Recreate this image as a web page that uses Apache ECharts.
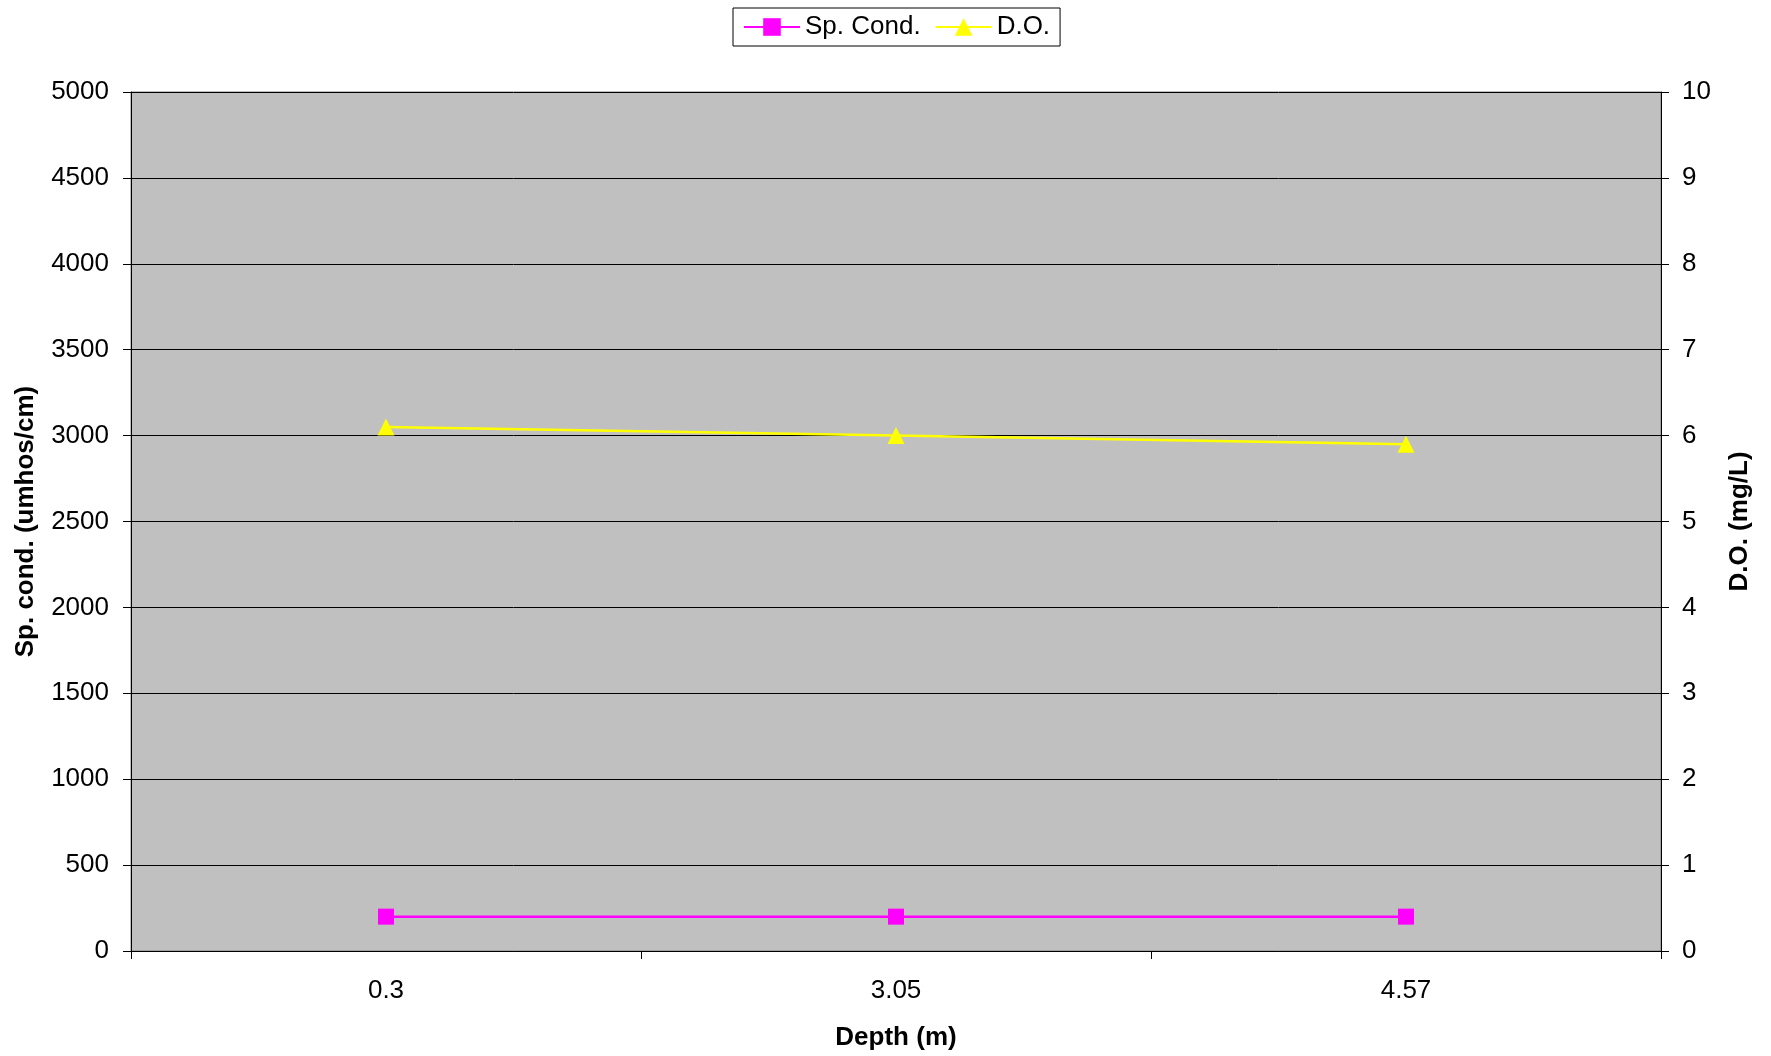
<!DOCTYPE html>
<html><head><meta charset="utf-8">
<script src="https://cdn.jsdelivr.net/npm/echarts@6/dist/echarts.min.js"></script>
<style>html,body{margin:0;padding:0;background:#fff}#c{width:1771px;height:1056px}</style>
</head><body><div id="c"></div>
<script>
const categories = ['0.3', '3.05', '4.57'];
const spCond = [200, 200, 200];
const dissolvedO = [6.1, 6.0, 5.9];
const leftTicks = { min: 0, max: 5000, interval: 500 };
const rightTicks = { min: 0, max: 10, interval: 1 };

const FONT = '"Liberation Sans", Arial, sans-serif';
const chart = echarts.init(document.getElementById('c'), null, { renderer: 'canvas' });
chart.setOption({
  backgroundColor: '#ffffff',
  animation: false,
  textStyle: { fontFamily: FONT, color: '#000' },
  legend: {
    left: 733, top: 8,
    padding: [6, 10, 6, 10],
    borderColor: '#000', borderWidth: 1,
    itemWidth: 56, itemHeight: 22, itemGap: 14,
    textStyle: { fontFamily: FONT, fontSize: 26, color: '#000' },
    data: ['Sp. Cond.', 'D.O.']
  },
  grid: {
    left: 131, right: 110, top: 92, bottom: 103,
    show: true, backgroundColor: '#C0C0C0', borderColor: '#808080', borderWidth: 1
  },
  xAxis: {
    type: 'category', data: categories, boundaryGap: true,
    name: 'Depth (m)', nameLocation: 'middle', nameGap: 74,
    nameTextStyle: { fontFamily: FONT, fontSize: 26, fontWeight: 'bold', color: '#000' },
    axisLine: { lineStyle: { color: '#000', width: 1 } },
    axisTick: { show: true, length: 8, lineStyle: { color: '#000' } },
    axisLabel: { margin: 27, fontFamily: FONT, fontSize: 26, color: '#000' },
    splitLine: { show: false }
  },
  yAxis: [{
    type: 'value', position: 'left', min: leftTicks.min, max: leftTicks.max, interval: leftTicks.interval,
    name: 'Sp. cond. (umhos/cm)', nameLocation: 'middle', nameGap: 92, nameRotate: 90,
    nameTextStyle: { fontFamily: FONT, fontSize: 26, fontWeight: 'bold', color: '#000' },
    axisLine: { show: true, lineStyle: { color: '#000', width: 1 } },
    axisTick: { show: true, length: 8, lineStyle: { color: '#000' } },
    axisLabel: { margin: 22, fontFamily: FONT, fontSize: 26, color: '#000', formatter: v => String(v) },
    splitLine: { show: true, lineStyle: { color: '#000', width: 1 } }
  }, {
    type: 'value', position: 'right', min: rightTicks.min, max: rightTicks.max, interval: rightTicks.interval,
    name: 'D.O. (mg/L)', nameLocation: 'middle', nameGap: 66, nameRotate: 90,
    nameTextStyle: { fontFamily: FONT, fontSize: 26, fontWeight: 'bold', color: '#000' },
    axisLine: { show: true, lineStyle: { color: '#000', width: 1 } },
    axisTick: { show: true, length: 8, lineStyle: { color: '#000' } },
    axisLabel: { margin: 21, fontFamily: FONT, fontSize: 26, color: '#000', formatter: v => String(v) },
    splitLine: { show: false }
  }],
  series: [{
    name: 'Sp. Cond.', type: 'line', yAxisIndex: 0, data: spCond,
    symbol: 'rect', symbolSize: 16,
    lineStyle: { color: '#FF00FF', width: 2.5 },
    itemStyle: { color: '#FF00FF' }
  }, {
    name: 'D.O.', type: 'line', yAxisIndex: 1, data: dissolvedO,
    symbol: 'triangle', symbolSize: 17,
    lineStyle: { color: '#FFFF00', width: 2.5 },
    itemStyle: { color: '#FFFF00' }
  }]
});
</script></body></html>
